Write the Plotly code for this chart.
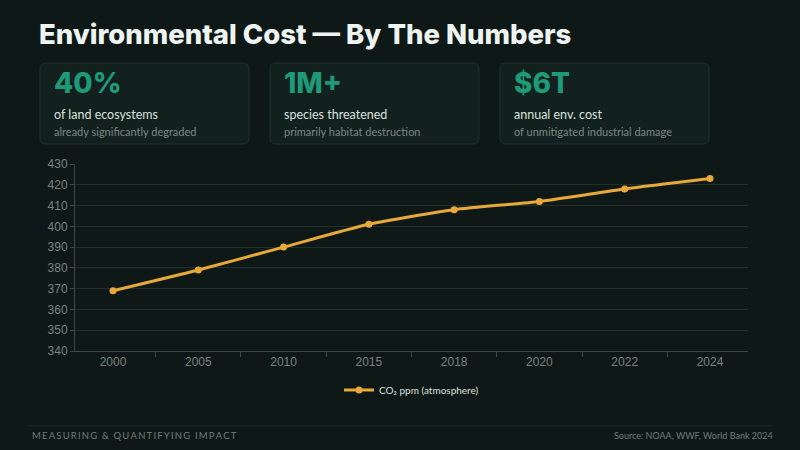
import plotly.graph_objects as go

# data
years = ["2000", "2005", "2010", "2015", "2018", "2020", "2022", "2024"]
co2_ppm = [369, 379, 390, 401, 408, 412, 418, 423]

stat_values = ["40%", "1M+", "$6T"]
stat_labels = ["of land ecosystems", "species threatened", "annual env. cost"]
stat_notes = ["already significantly degraded", "primarily habitat destruction",
              "of unmitigated industrial damage"]

BG = "#0e1917"
GREEN = "#1f9a78"
ORANGE = "#e8a83a"
GRID = "#22302d"

W, H = 800, 450
L, R, T, B = 75, 52, 164, 99
PW, PH = W - L - R, H - T - B


def px(x):
    return (x - L) / PW


def py(y):
    return (H - B - y) / PH


def rounded_rect(x0, y0, x1, y1, r):
    # pixel coords -> paper path with rounded corners
    X0, X1, Y0, Y1 = px(x0), px(x1), py(y0), py(y1)
    rx, ry = r / PW, r / PH
    return (f"M {X0+rx},{Y0} L {X1-rx},{Y0} Q {X1},{Y0} {X1},{Y0-ry} "
            f"L {X1},{Y1+ry} Q {X1},{Y1} {X1-rx},{Y1} "
            f"L {X0+rx},{Y1} Q {X0},{Y1} {X0},{Y1+ry} "
            f"L {X0},{Y0-ry} Q {X0},{Y0} {X0+rx},{Y0} Z")


fig = go.Figure()
fig.add_trace(go.Scatter(
    x=years, y=co2_ppm, mode="lines+markers", name="CO₂ ppm (atmosphere)",
    line=dict(color=ORANGE, width=3, shape="spline", smoothing=0.6),
    marker=dict(color=ORANGE, size=7),
))

shapes = []
annotations = []
card_x = [40, 270, 500]
for i, cx in enumerate(card_x):
    shapes.append(dict(type="path", xref="paper", yref="paper",
                       path=rounded_rect(cx, 63, cx + 209, 144, 6),
                       fillcolor="#13211e", line=dict(color="#20302c", width=1),
                       layer="below"))
    annotations += [
        dict(text=stat_values[i], x=px(cx + 12), y=py(83), xanchor="left", yanchor="middle",
             font=dict(family="Inter", size=28, color=GREEN, weight=800)),
        dict(text=stat_labels[i], x=px(cx + 12), y=py(114), xanchor="left", yanchor="middle",
             font=dict(family="Lato", size=12.5, color="#d9e0dd")),
        dict(text=stat_notes[i], x=px(cx + 12), y=py(131), xanchor="left", yanchor="middle",
             font=dict(family="Lato", size=11, color="#7b8884")),
    ]

annotations += [
    dict(text="Environmental Cost — By The Numbers", x=px(37), y=py(34),
         xanchor="left", yanchor="middle",
         font=dict(family="Inter", size=27.5, color="#eef4f1", weight=800)),
    dict(text="\u2009".join("MEASURING & QUANTIFYING IMPACT"), x=px(30), y=py(435),
         xanchor="left", yanchor="middle",
         font=dict(family="Lato", size=9.5, color="#6f7c78")),
    dict(text="Source: NOAA, WWF, World Bank 2024", x=px(775), y=py(435),
         xanchor="right", yanchor="middle",
         font=dict(family="Lato", size=9, color="#6f7c78")),
]
shapes.append(dict(type="line", xref="paper", yref="paper",
                   x0=px(28), x1=px(772), y0=py(426), y1=py(426),
                   line=dict(color="#1e2b28", width=1)))

for a in annotations:
    a.update(xref="paper", yref="paper", showarrow=False)

fig.update_layout(
    width=W, height=H,
    margin=dict(l=L, r=R, t=T, b=B),
    paper_bgcolor=BG, plot_bgcolor=BG,
    shapes=shapes, annotations=annotations,
    showlegend=True,
    legend=dict(orientation="h", x=0.5, xanchor="center", y=py(390), yanchor="middle",
                font=dict(family="Lato", size=10, color="#d9e0dd"),
                bgcolor="rgba(0,0,0,0)"),
    xaxis=dict(type="category", showgrid=False, showline=True, linecolor="#3b4845",
               ticks="outside", tickson="boundaries", ticklen=5, tickcolor="#3b4845",
               tickfont=dict(family="Liberation Sans", size=12, color="#77837f")),
    yaxis=dict(range=[340, 430], dtick=10, showgrid=True, gridcolor=GRID, gridwidth=1,
               showline=True, linecolor="#3b4845", ticks="outside", ticklen=4,
               tickcolor="#3b4845", zeroline=False,
               tickfont=dict(family="Liberation Sans", size=12, color="#77837f")),
)

fig.write_html("out.html", config={"displayModeBar": False},
               post_script="document.body.style.margin='0';")
